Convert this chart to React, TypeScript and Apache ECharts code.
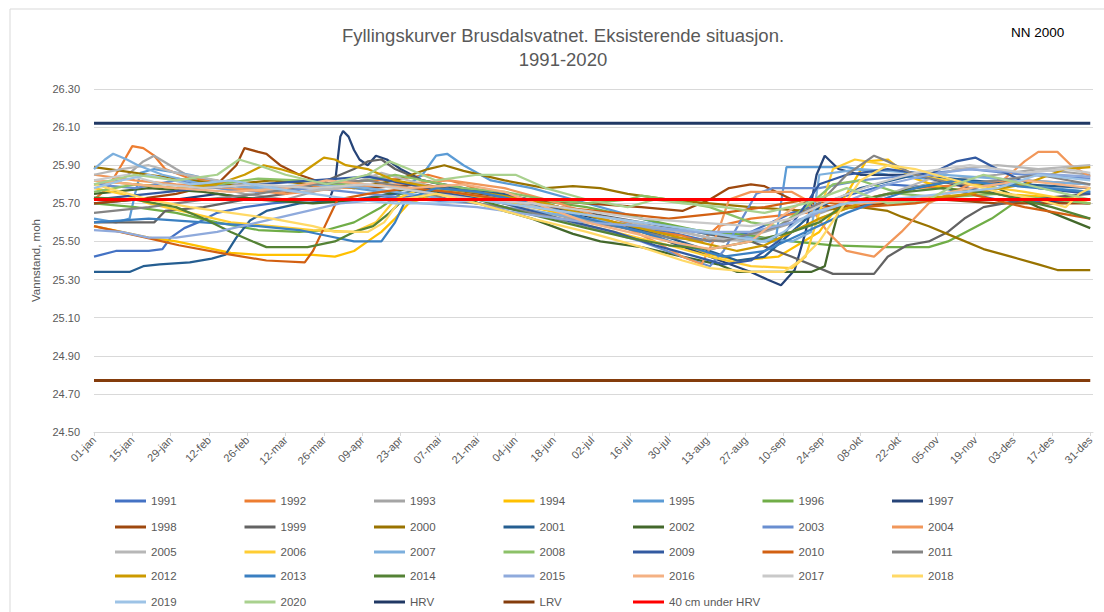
import React, { useEffect, useRef } from "react";
import * as echarts from "echarts";

// ---- axis / category data ----
const MONTHS = ["jan", "feb", "mar", "apr", "mai", "jun", "jul", "aug", "sep", "okt", "nov", "des"];
const MONTH_DAYS = [31, 28, 31, 30, 31, 30, 31, 31, 30, 31, 30, 31];
const Y_MIN = 24.5;
const Y_MAX = 26.3;
const Y_STEP = 0.2;

// ---- reference levels ----
const HRV = 26.12;
const LRV = 24.77;
const UNDER_HRV = 25.72;

// ---- yearly curves: [dayOfYear, level (moh)] ----
const y1991 = [[0,25.42],[8,25.45],[20,25.45],[25,25.46],[28,25.52],[33,25.57],[38,25.6],[45,25.65],[55,25.68],[65,25.7],[80,25.72],[100,25.72],[120,25.74],[135,25.75],[150,25.72],[170,25.65],[190,25.58],[210,25.55],[225,25.5],[240,25.55],[255,25.65],[270,25.72],[290,25.8],[310,25.78],[330,25.72],[350,25.7],[364,25.72]];
const y1992 = [[0,25.72],[5,25.78],[10,25.9],[14,26.0],[18,25.99],[22,25.95],[26,25.88],[35,25.83],[45,25.82],[55,25.78],[70,25.76],[85,25.8],[100,25.82],[112,25.83],[122,25.85],[135,25.8],[150,25.72],[170,25.68],[190,25.62],[205,25.55],[215,25.53],[222,25.5],[228,25.58],[240,25.62],[260,25.65],[280,25.72],[300,25.78],[320,25.8],[340,25.82],[364,25.8]];
const y1993 = [[0,25.8],[10,25.82],[18,25.92],[22,25.95],[30,25.88],[40,25.8],[55,25.75],[70,25.72],[85,25.78],[100,25.85],[115,25.8],[135,25.75],[155,25.68],[175,25.62],[195,25.58],[215,25.55],[230,25.5],[245,25.55],[260,25.62],[275,25.7],[290,25.75],[310,25.82],[330,25.85],[345,25.88],[364,25.85]];
const y1994 = [[0,25.58],[10,25.55],[20,25.52],[30,25.5],[40,25.47],[50,25.44],[60,25.43],[80,25.43],[88,25.42],[95,25.45],[100,25.5],[105,25.55],[110,25.62],[115,25.7],[125,25.75],[140,25.73],[160,25.68],[180,25.62],[200,25.55],[220,25.45],[235,25.4],[250,25.42],[265,25.55],[275,25.75],[282,25.92],[290,25.93],[298,25.84],[310,25.78],[330,25.75],[364,25.72]];
const y1995 = [[0,25.62],[8,25.6],[13,25.62],[15,25.75],[17,25.86],[22,25.88],[35,25.85],[50,25.8],[65,25.78],[80,25.8],[95,25.78],[110,25.75],[120,25.85],[125,25.95],[129,25.96],[135,25.9],[145,25.82],[160,25.78],[175,25.72],[190,25.66],[205,25.6],[220,25.55],[238,25.5],[249,25.5],[251,25.7],[253,25.89],[275,25.89],[290,25.85],[310,25.82],[330,25.8],[350,25.78],[364,25.76]];
const y1996 = [[0,25.7],[15,25.68],[30,25.65],[45,25.6],[60,25.56],[75,25.55],[85,25.56],[95,25.6],[105,25.68],[112,25.75],[125,25.78],[140,25.76],[160,25.72],[180,25.68],[200,25.62],[220,25.56],[240,25.53],[255,25.5],[270,25.48],[290,25.47],[305,25.47],[312,25.5],[320,25.56],[328,25.62],[336,25.7],[350,25.73],[364,25.72]];
const y1997 = [[0,25.7],[15,25.72],[30,25.72],[45,25.75],[60,25.72],[75,25.72],[86,25.72],[88,25.8],[90,26.05],[91,26.08],[93,26.05],[95,25.98],[97,25.93],[100,25.9],[103,25.95],[107,25.93],[112,25.88],[120,25.82],[135,25.78],[155,25.72],[175,25.65],[195,25.58],[210,25.5],[225,25.42],[240,25.34],[246,25.3],[251,25.27],[256,25.35],[260,25.55],[264,25.85],[267,25.95],[272,25.88],[280,25.85],[300,25.85],[320,25.78],[340,25.72],[364,25.7]];
const y1998 = [[0,25.7],[15,25.72],[30,25.75],[45,25.8],[52,25.9],[55,25.99],[60,25.97],[63,25.96],[68,25.9],[75,25.85],[85,25.8],[100,25.78],[120,25.8],[140,25.75],[160,25.72],[180,25.7],[200,25.68],[215,25.66],[225,25.72],[232,25.78],[240,25.8],[245,25.79],[255,25.72],[270,25.68],[290,25.7],[310,25.72],[330,25.7],[364,25.7]];
const y1999 = [[0,25.6],[10,25.6],[22,25.6],[26,25.66],[40,25.68],[55,25.72],[70,25.75],[85,25.82],[95,25.88],[100,25.92],[105,25.93],[110,25.88],[120,25.82],[140,25.76],[160,25.7],[180,25.65],[200,25.6],[220,25.55],[240,25.5],[255,25.42],[265,25.36],[270,25.33],[285,25.33],[290,25.42],[297,25.48],[305,25.5],[312,25.55],[318,25.62],[325,25.68],[340,25.72],[364,25.75]];
const y2000 = [[0,25.89],[10,25.87],[20,25.85],[35,25.82],[50,25.8],[65,25.82],[80,25.8],[95,25.78],[110,25.82],[122,25.88],[128,25.9],[135,25.87],[150,25.82],[165,25.78],[175,25.79],[185,25.78],[195,25.75],[210,25.72],[225,25.7],[240,25.68],[260,25.66],[280,25.68],[290,25.66],[295,25.63],[305,25.58],[315,25.52],[325,25.46],[335,25.42],[345,25.38],[352,25.35],[364,25.35]];
const y2001 = [[0,25.34],[13,25.34],[18,25.37],[24,25.38],[35,25.39],[43,25.41],[48,25.43],[52,25.52],[57,25.61],[63,25.66],[75,25.7],[95,25.72],[110,25.75],[130,25.78],[150,25.75],[170,25.68],[190,25.6],[210,25.52],[225,25.45],[235,25.4],[245,25.42],[255,25.55],[265,25.68],[280,25.78],[300,25.85],[320,25.82],[340,25.8],[364,25.78]];
const y2002 = [[0,25.75],[20,25.78],[40,25.76],[60,25.72],[80,25.7],[100,25.72],[115,25.78],[130,25.75],[145,25.68],[160,25.62],[175,25.54],[185,25.5],[200,25.47],[215,25.42],[228,25.38],[235,25.34],[262,25.34],[267,25.37],[270,25.55],[273,25.71],[285,25.73],[300,25.78],[315,25.82],[330,25.78],[345,25.68],[364,25.57]];
const y2003 = [[0,25.8],[15,25.78],[30,25.82],[45,25.78],[60,25.76],[80,25.78],[100,25.75],[120,25.72],[140,25.7],[160,25.65],[180,25.58],[200,25.5],[215,25.42],[225,25.37],[230,25.45],[236,25.6],[242,25.75],[248,25.78],[265,25.78],[280,25.82],[300,25.85],[320,25.88],[340,25.85],[364,25.83]];
const y2004 = [[0,25.85],[15,25.82],[30,25.8],[50,25.78],[70,25.75],[90,25.78],[110,25.8],[130,25.82],[150,25.78],[170,25.7],[190,25.6],[205,25.5],[215,25.42],[222,25.38],[228,25.55],[232,25.72],[240,25.76],[255,25.76],[260,25.72],[268,25.55],[275,25.45],[285,25.42],[295,25.55],[305,25.7],[320,25.8],[332,25.82],[340,25.92],[345,25.97],[352,25.97],[357,25.9],[364,25.84]];
const y2005 = [[0,25.85],[10,25.88],[20,25.9],[30,25.86],[45,25.82],[60,25.78],[75,25.76],[90,25.78],[105,25.86],[115,25.82],[130,25.76],[150,25.72],[170,25.66],[190,25.62],[210,25.56],[225,25.52],[240,25.5],[255,25.55],[270,25.65],[285,25.72],[300,25.8],[315,25.88],[330,25.9],[345,25.88],[364,25.9]];
const y2006 = [[0,25.78],[10,25.75],[20,25.7],[35,25.65],[50,25.6],[65,25.58],[80,25.56],[95,25.55],[103,25.6],[110,25.72],[120,25.78],[135,25.75],[150,25.7],[170,25.62],[190,25.55],[210,25.48],[225,25.42],[240,25.37],[255,25.36],[260,25.42],[265,25.65],[270,25.88],[278,25.93],[290,25.9],[300,25.85],[320,25.8],[340,25.76],[364,25.7]];
const y2007 = [[0,25.88],[4,25.93],[7,25.96],[12,25.93],[16,25.9],[25,25.85],[40,25.8],[60,25.78],[80,25.8],[100,25.78],[120,25.74],[140,25.7],[160,25.66],[180,25.62],[200,25.58],[220,25.55],[240,25.52],[255,25.5],[262,25.55],[265,25.85],[280,25.88],[300,25.86],[320,25.84],[340,25.82],[364,25.8]];
const y2008 = [[0,25.76],[15,25.8],[30,25.78],[45,25.8],[60,25.83],[75,25.82],[90,25.8],[100,25.82],[110,25.85],[120,25.82],[135,25.78],[150,25.76],[165,25.72],[180,25.7],[195,25.72],[200,25.74],[210,25.72],[225,25.68],[240,25.6],[250,25.58],[262,25.7],[270,25.8],[280,25.82],[295,25.75],[310,25.73],[330,25.75],[350,25.72],[364,25.7]];
const y2009 = [[0,25.72],[20,25.75],[40,25.78],[60,25.8],[80,25.82],[100,25.84],[115,25.8],[130,25.75],[150,25.7],[170,25.62],[190,25.55],[205,25.48],[220,25.42],[230,25.38],[240,25.4],[250,25.5],[258,25.65],[265,25.8],[275,25.85],[290,25.88],[305,25.85],[315,25.92],[322,25.94],[330,25.88],[345,25.78],[364,25.75]];
const y2010 = [[0,25.58],[19,25.52],[31,25.48],[46,25.44],[63,25.4],[77,25.39],[80,25.45],[85,25.6],[89,25.72],[100,25.75],[115,25.78],[130,25.76],[150,25.72],[170,25.68],[190,25.65],[210,25.62],[230,25.65],[245,25.68],[260,25.72],[280,25.68],[300,25.7],[320,25.75],[340,25.68],[364,25.62]];
const y2011 = [[0,25.65],[20,25.68],[40,25.72],[60,25.75],[80,25.8],[100,25.82],[115,25.78],[130,25.72],[150,25.68],[170,25.62],[190,25.58],[210,25.52],[230,25.5],[250,25.58],[265,25.7],[275,25.85],[285,25.95],[290,25.92],[300,25.85],[315,25.8],[330,25.82],[345,25.85],[364,25.8]];
const y2012 = [[0,25.82],[15,25.8],[30,25.78],[45,25.8],[55,25.85],[62,25.9],[68,25.88],[75,25.85],[80,25.9],[84,25.94],[88,25.93],[92,25.9],[100,25.88],[110,25.82],[125,25.78],[145,25.75],[165,25.7],[185,25.62],[205,25.55],[220,25.5],[235,25.45],[245,25.48],[255,25.55],[265,25.62],[280,25.7],[300,25.72],[320,25.75],[340,25.8],[355,25.88],[364,25.89]];
const y2013 = [[0,25.6],[20,25.62],[40,25.6],[60,25.58],[75,25.56],[85,25.53],[95,25.5],[105,25.5],[110,25.6],[114,25.72],[125,25.78],[140,25.76],[160,25.7],[180,25.62],[200,25.55],[215,25.48],[230,25.42],[245,25.45],[260,25.55],[275,25.65],[288,25.72],[300,25.78],[315,25.82],[330,25.8],[345,25.78],[364,25.76]];
const y2014 = [[0,25.73],[15,25.72],[30,25.68],[40,25.62],[50,25.55],[58,25.5],[63,25.47],[78,25.47],[88,25.5],[95,25.55],[102,25.58],[108,25.65],[113,25.72],[125,25.75],[140,25.72],[160,25.64],[180,25.57],[195,25.52],[210,25.48],[225,25.46],[240,25.5],[255,25.55],[265,25.6],[275,25.7],[290,25.75],[310,25.78],[330,25.75],[350,25.68],[364,25.62]];
const y2015 = [[0,25.56],[10,25.55],[20,25.52],[30,25.52],[45,25.55],[60,25.6],[75,25.65],[90,25.7],[105,25.72],[120,25.7],[140,25.68],[160,25.64],[180,25.6],[200,25.58],[220,25.55],[240,25.55],[255,25.6],[270,25.68],[290,25.8],[305,25.85],[320,25.88],[340,25.86],[364,25.84]];
const y2016 = [[0,25.82],[15,25.8],[30,25.78],[50,25.76],[70,25.78],[85,25.82],[100,25.8],[115,25.78],[135,25.8],[150,25.76],[165,25.68],[180,25.6],[195,25.55],[210,25.5],[225,25.46],[240,25.5],[250,25.62],[260,25.72],[280,25.7],[300,25.72],[320,25.78],[340,25.82],[364,25.78]];
const y2017 = [[0,25.82],[12,25.85],[25,25.8],[40,25.78],[60,25.8],[80,25.78],[100,25.8],[120,25.76],[140,25.72],[160,25.7],[180,25.66],[200,25.62],[220,25.6],[240,25.58],[255,25.62],[270,25.72],[285,25.8],[300,25.86],[320,25.9],[340,25.86],[355,25.88],[364,25.86]];
const y2018 = [[0,25.8],[10,25.76],[20,25.72],[35,25.68],[50,25.65],[65,25.62],[80,25.58],[88,25.55],[100,25.55],[106,25.6],[112,25.72],[125,25.75],[140,25.7],[160,25.62],[180,25.55],[200,25.47],[215,25.4],[225,25.36],[240,25.34],[252,25.34],[258,25.4],[265,25.5],[272,25.65],[280,25.82],[290,25.9],[300,25.88],[315,25.82],[330,25.76],[345,25.72],[355,25.68],[360,25.75],[364,25.78]];
const y2019 = [[0,25.78],[10,25.82],[20,25.85],[35,25.8],[50,25.82],[65,25.78],[80,25.75],[95,25.72],[110,25.7],[125,25.7],[140,25.72],[160,25.68],[180,25.64],[200,25.6],[220,25.56],[235,25.52],[245,25.5],[252,25.55],[262,25.65],[275,25.7],[290,25.72],[310,25.75],[330,25.78],[345,25.85],[364,25.82]];
const y2020 = [[0,25.8],[15,25.85],[30,25.82],[45,25.85],[53,25.93],[60,25.9],[70,25.85],[85,25.8],[100,25.85],[108,25.92],[115,25.88],[125,25.82],[140,25.85],[154,25.85],[165,25.78],[180,25.72],[195,25.68],[205,25.72],[215,25.7],[230,25.68],[245,25.65],[260,25.7],[275,25.78],[290,25.7],[305,25.72],[315,25.8],[325,25.85],[340,25.8],[355,25.75],[364,25.72]];

const YEARS = ["1991","1992","1993","1994","1995","1996","1997","1998","1999","2000","2001","2002","2003","2004","2005","2006","2007","2008","2009","2010","2011","2012","2013","2014","2015","2016","2017","2018","2019","2020"];
const YEAR_DATA = [y1991,y1992,y1993,y1994,y1995,y1996,y1997,y1998,y1999,y2000,y2001,y2002,y2003,y2004,y2005,y2006,y2007,y2008,y2009,y2010,y2011,y2012,y2013,y2014,y2015,y2016,y2017,y2018,y2019,y2020];
const YEAR_COLORS = ["#4472C4","#ED7D31","#A5A5A5","#FFC000","#5B9BD5","#70AD47","#264478","#9E480E","#636363","#997300","#255E91","#43682B","#698ED0","#F1975A","#B7B7B7","#FFCD33","#7CAFDD","#8CC168","#335AA1","#D26012","#848484","#CC9A00","#3A7FC1","#548235","#8FAADC","#F4B183","#C9C9C9","#FFD966","#9DC3E6","#A9D18E"];

const LEVEL_NAMES = ["HRV", "LRV", "40 cm under HRV"];
const LEVEL_VALUES = [HRV, LRV, UNDER_HRV];
const LEVEL_COLORS = ["#203864", "#843C0C", "#FF0000"];

const FONT = "'Liberation Sans', Arial, sans-serif";

function buildCategories(): string[] {
  const out: string[] = [];
  MONTHS.forEach((m, mi) => {
    for (let d = 1; d <= MONTH_DAYS[mi]; d++) {
      out.push(String(d).padStart(2, "0") + "-" + m);
    }
  });
  out.push("");
  return out;
}

export default function App() {
  const ref = useRef<HTMLDivElement>(null);
  useEffect(() => {
    if (!ref.current) return;
    const chart = echarts.init(ref.current, undefined, { renderer: "svg" });
    const categories = buildCategories();
    const lastIdx = categories.length - 2;

    const yearSeries = YEARS.map((name, i) => ({
      name,
      type: "line",
      data: YEAR_DATA[i],
      showSymbol: false,
      symbol: "none",
      lineStyle: { width: 2.25, color: YEAR_COLORS[i] },
      itemStyle: { color: YEAR_COLORS[i] },
    }));
    const levelSeries = LEVEL_NAMES.map((name, i) => ({
      name,
      type: "line",
      data: [[0, LEVEL_VALUES[i]], [lastIdx, LEVEL_VALUES[i]]],
      showSymbol: false,
      symbol: "none",
      lineStyle: { width: 3, color: LEVEL_COLORS[i] },
      itemStyle: { color: LEVEL_COLORS[i] },
    }));

    const allNames = [...YEARS, ...LEVEL_NAMES];
    const rowTops = [494, 520, 545, 569, 595];
    const legends = rowTops.map((top, r) => ({
      show: true,
      orient: "horizontal",
      left: 115,
      top,
      padding: 0,
      icon: "rect",
      itemWidth: 31,
      itemHeight: 3,
      itemGap: 1.5,
      selectedMode: false,
      data: allNames.slice(r * 7, r * 7 + 7),
      textStyle: { fontFamily: FONT, fontSize: 11.5, color: "#595959", width: 92, overflow: "none", lineHeight: 14 },
    }));

    chart.setOption({
      animation: false,
      backgroundColor: "#ffffff",
      color: [...YEAR_COLORS, ...LEVEL_COLORS],
      title: {
        text: "Fyllingskurver Brusdalsvatnet. Eksisterende situasjon.\n1991-2020",
        left: 563,
        top: 23,
        padding: 0,
        textAlign: "center",
        textStyle: { fontFamily: FONT, fontSize: 18.5, fontWeight: "normal", color: "#595959", lineHeight: 24 },
      },
      graphic: [
        {
          type: "rect",
          shape: { x: 10, y: 9, width: 1110, height: 620 },
          style: { fill: "none", stroke: "#D9D9D9", lineWidth: 1 },
          silent: true,
        },
        {
          type: "text",
          x: 1011,
          y: 32,
          style: { text: "NN 2000", fontFamily: FONT, fontSize: 13.5, fill: "#000000", verticalAlign: "middle" },
        },
      ],
      legend: legends,
      grid: { left: 94, right: 11, top: 89, bottom: 180, containLabel: false },
      xAxis: {
        type: "category",
        data: categories,
        boundaryGap: false,
        axisLine: { lineStyle: { color: "#D9D9D9" } },
        axisTick: { show: true, interval: 13, length: 4, lineStyle: { color: "#D9D9D9" } },
        axisLabel: { interval: 13, rotate: 45, fontFamily: FONT, fontSize: 11, color: "#595959", margin: 6 },
        splitLine: { show: false },
      },
      yAxis: {
        type: "value",
        min: Y_MIN,
        max: Y_MAX,
        interval: Y_STEP,
        name: "Vannstand, moh",
        nameLocation: "middle",
        nameGap: 50,
        nameTextStyle: { fontFamily: FONT, fontSize: 11.5, color: "#595959" },
        axisLine: { show: false },
        axisTick: { show: false },
        axisLabel: { fontFamily: FONT, fontSize: 11, color: "#595959", margin: 14, formatter: (v: number) => v.toFixed(2) },
        splitLine: { lineStyle: { color: "#D9D9D9", width: 1 } },
      },
      series: [...yearSeries, ...levelSeries],
    });
    return () => chart.dispose();
  }, []);
  return <div ref={ref} style={{ position: "absolute", left: 0, top: 0, width: 1104, height: 612 }} />;
}
